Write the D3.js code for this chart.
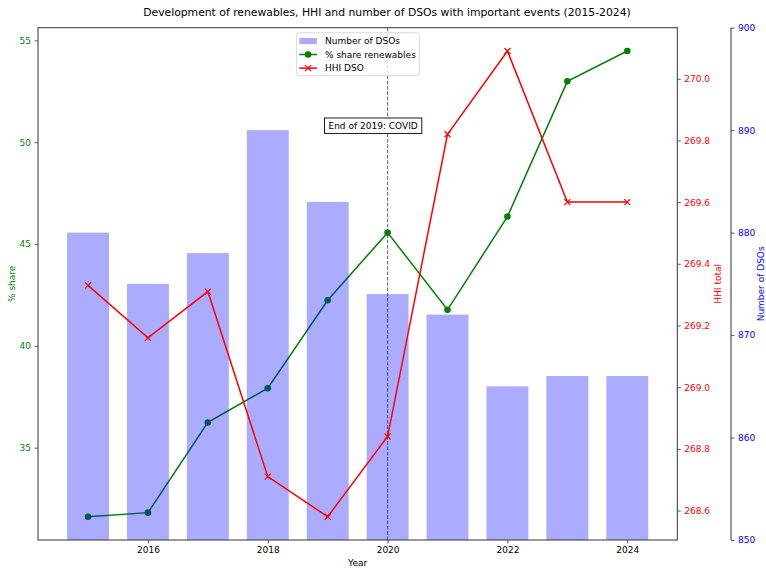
<!DOCTYPE html>
<html>
<head>
<meta charset="utf-8">
<script src="https://cdn.jsdelivr.net/npm/d3@7"></script>
<style>
  html, body { margin: 0; padding: 0; background: #fff; }
  svg { display: block; font-family: "DejaVu Sans", sans-serif; }
</style>
</head>
<body>
<svg id="chart" width="766" height="571"></svg>
<script>
// Yearly data 2015–2024
const years = [2015, 2016, 2017, 2018, 2019, 2020, 2021, 2022, 2023, 2024];
const dsoCount = [880, 875, 878, 890, 883, 874, 872, 865, 866, 866];
const shareRenewables = [31.61, 31.81, 36.24, 37.92, 42.24, 45.56, 41.77, 46.35, 52.99, 54.48];
const hhiDso = [269.33, 269.16, 269.31, 268.71, 268.58, 268.84, 269.82, 270.09, 269.60, 269.60];

const shareTicks = [35, 40, 45, 50, 55];
const hhiTicks = [268.6, 268.8, 269.0, 269.2, 269.4, 269.6, 269.8, 270.0];
const dsoTicks = [850, 860, 870, 880, 890, 900];
const xTicks = [2016, 2018, 2020, 2022, 2024];

const dsoRange = [850, 900];
const eventYear = 2020;
const eventLabel = "End of 2019: COVID";
const titleText = "Development of renewables, HHI and number of DSOs with important events (2015-2024)";

const W = 766, H = 571;
const plot = { left: 38, right: 677.3, top: 27.7, bottom: 540 };
const dsoAxisX = 731;
const barWidth = 0.7;

const svg = d3.select("#chart");

// Auto limits with 5% padding on each side
function padded(vals, frac = 0.05) {
  const [lo, hi] = d3.extent(vals);
  const r = hi - lo;
  return [lo - r * frac, hi + r * frac];
}

const xDom = padded([years[0] - barWidth / 2, years[years.length - 1] + barWidth / 2]);
const x = d3.scaleLinear().domain(xDom).range([plot.left, plot.right]);
const yShare = d3.scaleLinear().domain(padded(shareRenewables)).range([plot.bottom, plot.top]);
const yHhi = d3.scaleLinear().domain(padded(hhiDso)).range([plot.bottom, plot.top]);
const yDso = d3.scaleLinear().domain(dsoRange).range([plot.bottom, plot.top]);

const spine = "#333";
const green = "green", red = "red", blue = "blue";
const tickFont = 9;

// Clip for plotted marks
svg.append("defs").append("clipPath").attr("id", "plotClip")
  .append("rect")
  .attr("x", plot.left).attr("y", plot.top)
  .attr("width", plot.right - plot.left).attr("height", plot.bottom - plot.top);

// Title
svg.append("text")
  .attr("x", 387).attr("y", 15.5)
  .attr("text-anchor", "middle")
  .attr("font-size", 10.8)
  .attr("fill", "#000")
  .text(titleText);

const marks = svg.append("g").attr("clip-path", "url(#plotClip)");

// % share renewables (primary axis)
const shareLine = d3.line().x((d, i) => x(years[i])).y(d => yShare(d));
marks.append("path")
  .datum(shareRenewables)
  .attr("d", shareLine)
  .attr("fill", "none").attr("stroke", green).attr("stroke-width", 1.5);
marks.selectAll("circle.share")
  .data(shareRenewables).enter().append("circle")
  .attr("class", "share")
  .attr("cx", (d, i) => x(years[i])).attr("cy", d => yShare(d))
  .attr("r", 3.3).attr("fill", green);

// Event marker line
marks.append("line")
  .attr("x1", x(eventYear)).attr("x2", x(eventYear))
  .attr("y1", plot.top).attr("y2", plot.bottom)
  .attr("stroke", "#555").attr("stroke-width", 0.9)
  .attr("stroke-dasharray", "3.7,1.6");

// Number of DSOs bars (third axis)
marks.selectAll("rect.dso")
  .data(dsoCount).enter().append("rect")
  .attr("class", "dso")
  .attr("x", (d, i) => x(years[i] - barWidth / 2))
  .attr("width", (d, i) => x(years[i] + barWidth / 2) - x(years[i] - barWidth / 2))
  .attr("y", d => yDso(d))
  .attr("height", d => yDso(dsoRange[0]) - yDso(d))
  .attr("fill", blue).attr("fill-opacity", 0.33);

// HHI line (secondary axis)
const hhiLine = d3.line().x((d, i) => x(years[i])).y(d => yHhi(d));
marks.append("path")
  .datum(hhiDso)
  .attr("d", hhiLine)
  .attr("fill", "none").attr("stroke", red).attr("stroke-width", 1.5);
const xMark = 3;
marks.selectAll("path.hhi")
  .data(hhiDso).enter().append("path")
  .attr("class", "hhi")
  .attr("transform", (d, i) => `translate(${x(years[i])},${yHhi(d)})`)
  .attr("d", `M${-xMark},${-xMark}L${xMark},${xMark}M${-xMark},${xMark}L${xMark},${-xMark}`)
  .attr("stroke", red).attr("stroke-width", 1.2).attr("fill", "none");

// Frame
svg.append("rect")
  .attr("x", plot.left).attr("y", plot.top)
  .attr("width", plot.right - plot.left).attr("height", plot.bottom - plot.top)
  .attr("fill", "none").attr("stroke", spine).attr("stroke-width", 1);

// Axes
function styleAxis(g, color) {
  g.select(".domain").remove();
  g.selectAll(".tick line").attr("stroke", spine).attr("stroke-width", 0.8);
  g.selectAll(".tick text")
    .attr("fill", color)
    .attr("font-size", tickFont)
    .attr("font-family", "DejaVu Sans, sans-serif");
}

const xAxis = svg.append("g")
  .attr("transform", `translate(0,${plot.bottom})`)
  .call(d3.axisBottom(x).tickValues(xTicks).tickFormat(d3.format("d")).tickSize(3.5).tickPadding(3.5));
styleAxis(xAxis, "#000");

const leftAxis = svg.append("g")
  .attr("transform", `translate(${plot.left},0)`)
  .call(d3.axisLeft(yShare).tickValues(shareTicks).tickFormat(d3.format("d")).tickSize(3.5).tickPadding(3.5));
styleAxis(leftAxis, green);

const hhiAxis = svg.append("g")
  .attr("transform", `translate(${plot.right},0)`)
  .call(d3.axisRight(yHhi).tickValues(hhiTicks).tickFormat(d3.format(".1f")).tickSize(3.5).tickPadding(3.5));
styleAxis(hhiAxis, red);

const dsoAxis = svg.append("g")
  .attr("transform", `translate(${dsoAxisX},0)`)
  .call(d3.axisRight(yDso).tickValues(dsoTicks).tickFormat(d3.format("d")).tickSize(3.5).tickPadding(3.5));
styleAxis(dsoAxis, blue);
svg.append("line")
  .attr("x1", dsoAxisX).attr("x2", dsoAxisX)
  .attr("y1", plot.top).attr("y2", plot.bottom)
  .attr("stroke", spine).attr("stroke-width", 1);

// Axis titles
svg.append("text")
  .attr("x", (plot.left + plot.right) / 2).attr("y", 566)
  .attr("text-anchor", "middle").attr("font-size", tickFont).attr("fill", "#000")
  .text("Year");
function vLabel(cx, text, color) {
  svg.append("text")
    .attr("transform", `translate(${cx},${(plot.top + plot.bottom) / 2}) rotate(-90)`)
    .attr("text-anchor", "middle").attr("dominant-baseline", "central")
    .attr("font-size", tickFont).attr("fill", color)
    .text(text);
}
vLabel(12, "% share", green);
vLabel(717.5, "HHI total", red);
vLabel(761, "Number of DSOs", blue);

// Legend
const lg = svg.append("g").attr("transform", "translate(296.7,32.7)");
lg.append("rect")
  .attr("width", 122.6).attr("height", 43)
  .attr("rx", 2.5)
  .attr("fill", "#fff").attr("fill-opacity", 0.8)
  .attr("stroke", "#d0d0d0").attr("stroke-width", 0.8);
const legendItems = [
  { label: "Number of DSOs", kind: "bar" },
  { label: "% share renewables", kind: "share" },
  { label: "HHI DSO", kind: "hhi" }
];
const rowY = [8.3, 21.8, 35.4];
legendItems.forEach((it, i) => {
  const g = lg.append("g").attr("transform", `translate(0,${rowY[i]})`);
  if (it.kind === "bar") {
    g.append("rect").attr("x", 2.6).attr("y", -3).attr("width", 17.6).attr("height", 6.2)
      .attr("fill", blue).attr("fill-opacity", 0.33);
  } else if (it.kind === "share") {
    g.append("line").attr("x1", 2.6).attr("x2", 20.2).attr("y1", 0).attr("y2", 0)
      .attr("stroke", green).attr("stroke-width", 1.5);
    g.append("circle").attr("cx", 11.4).attr("cy", 0).attr("r", 3.3).attr("fill", green);
  } else {
    g.append("line").attr("x1", 2.6).attr("x2", 20.2).attr("y1", 0).attr("y2", 0)
      .attr("stroke", red).attr("stroke-width", 1.5);
    g.append("path")
      .attr("transform", "translate(11.4,0)")
      .attr("d", `M${-xMark},${-xMark}L${xMark},${xMark}M${-xMark},${xMark}L${xMark},${-xMark}`)
      .attr("stroke", red).attr("stroke-width", 1.2);
  }
  g.append("text").attr("x", 28.3).attr("y", 0)
    .attr("dominant-baseline", "central")
    .attr("font-size", tickFont).attr("fill", "#000")
    .text(it.label);
});

// Event annotation box
const ann = svg.append("g").attr("transform", `translate(${x(eventYear) - 14.5},125.7)`);
const annText = ann.append("text")
  .attr("text-anchor", "middle").attr("dominant-baseline", "central")
  .attr("font-size", tickFont).attr("fill", "#000")
  .text(eventLabel);
const bb = annText.node().getBBox();
ann.insert("rect", "text")
  .attr("x", bb.x - 4).attr("y", -7.7)
  .attr("width", bb.width + 8).attr("height", 15.4)
  .attr("fill", "#fff").attr("stroke", "#000").attr("stroke-width", 0.9);
</script>
</body>
</html>
